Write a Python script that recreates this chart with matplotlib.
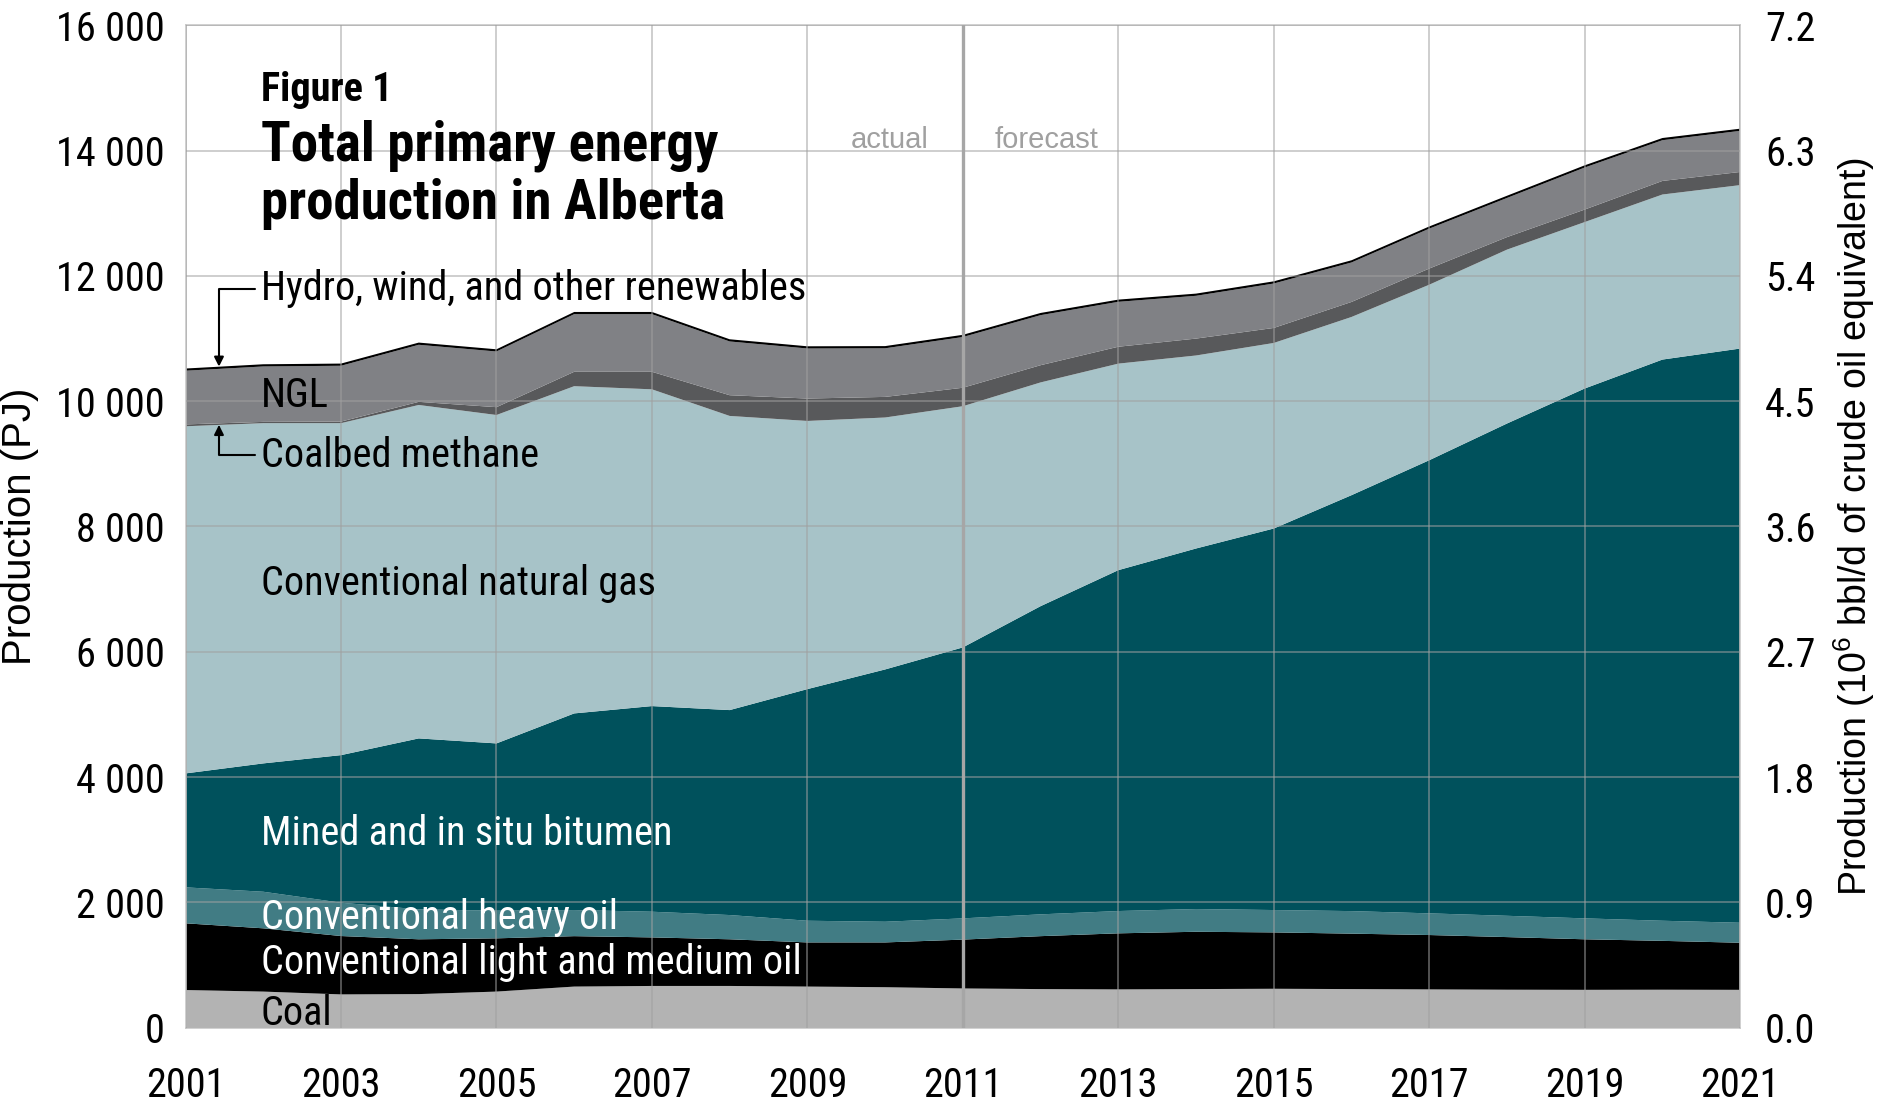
import matplotlib
matplotlib.use("Agg")
import matplotlib.pyplot as plt
import matplotlib.ticker as mticker
import numpy as np

years = np.arange(2001, 2022)

# PJ per year (stack order bottom -> top)
coal = np.array([600, 575, 530, 535, 575, 655, 665, 665, 655, 645, 625,
                 615, 610, 615, 620, 615, 610, 605, 603, 605, 603])
light_oil = np.array([1065, 1010, 932, 875, 850, 805, 775, 745, 705, 715, 780,
                      845, 895, 915, 900, 885, 868, 840, 807, 780, 752])
heavy_oil = np.array([574, 584, 532, 478, 441, 417, 410, 387, 346, 330, 339,
                      348, 356, 363, 357, 360, 346, 340, 334, 321, 319])
bitumen = np.array([1819, 2049, 2356, 2729, 2671, 3139, 3283, 3272, 3698, 4028, 4326,
                    4920, 5442, 5756, 6091, 6640, 7234, 7859, 8459, 8959, 9167])
nat_gas = np.array([5542, 5432, 5300, 5323, 5243, 5224, 5057, 4696, 4281, 4022, 3850,
                    3572, 3297, 3081, 2962, 2845, 2802, 2776, 2657, 2635, 2609])
cbm = np.array([30, 20, 25, 50, 125, 230, 280, 331, 358, 329, 295,
                275, 270, 270, 240, 240, 258, 200, 200, 217, 210])
ngl = np.array([857, 885, 891, 911, 889, 920, 920, 858, 799, 776, 810,
                799, 717, 683, 709, 630, 637, 625, 671, 650, 656])
renewables = np.array([35, 35, 35, 35, 35, 35, 35, 35, 35, 35, 35,
                       35, 35, 35, 35, 35, 35, 35, 35, 35, 35])

layers = [coal, light_oil, heavy_oil, bitumen, nat_gas, cbm, ngl, renewables]
colors = ["#b3b3b3", "#000000", "#417c84", "#00515c", "#a7c3c8",
          "#58595b", "#808185", "#000000"]

narrow = ["Roboto Condensed", "Archivo Narrow", "Liberation Sans", "DejaVu Sans"]
regular = ["Liberation Sans", "DejaVu Sans"]
plt.rcParams["font.family"] = narrow
plt.rcParams["mathtext.fontset"] = "custom"
plt.rcParams["mathtext.rm"] = "Liberation Sans"

fig = plt.figure(figsize=(18.78, 11.04), dpi=100)
ax = fig.add_axes([0.0988, 0.0692, 0.8278, 0.9078])

ax.stackplot(years, *layers, colors=colors, linewidth=0)
tops = np.cumsum(np.vstack(layers), axis=0)

ax.set_xlim(2001, 2021)
ax.set_ylim(0, 16000)
ax.set_xticks(np.arange(2001, 2022, 2))
ax.set_yticks(np.arange(0, 16001, 2000))
ax.yaxis.set_major_formatter(mticker.FuncFormatter(lambda v, p: f"{int(v):,}".replace(",", " ")))
ax.tick_params(axis="both", length=0, labelsize=29)
ax.tick_params(axis="x", pad=28)
ax.tick_params(axis="y", pad=15)
ax.grid(True, color="#a0a0a0", alpha=0.6, linewidth=1.2)
ax.set_axisbelow(False)
for s in ax.spines.values():
    s.set_color("#c8c8c8")
    s.set_linewidth(1.2)

ax.set_ylabel("Production (PJ)", fontsize=29, family=regular)
ax.yaxis.set_label_coords(-0.094, 0.5)

ax2 = ax.twinx()
ax2.set_ylim(0, 7.2)
ax2.set_yticks(np.arange(0, 7.21, 0.9))
ax2.yaxis.set_major_formatter(mticker.FormatStrFormatter("%.1f"))
ax2.tick_params(axis="y", length=0, labelsize=29, pad=18)
for s in ax2.spines.values():
    s.set_visible(False)
ax2.set_ylabel(r"Production (10$^6$ bbl/d of crude oil equivalent)", fontsize=27,
               family=regular)
ax2.yaxis.set_label_coords(1.059, 0.5)

# actual / forecast divider
ax.axvline(2011, color="#a6a6a6", linewidth=2.4, zorder=5)
ax.text(2010.06, 14168, "actual", ha="center", va="center", fontsize=21,
        color="#a0a0a0", family=regular)
ax.text(2012.08, 14168, "forecast", ha="center", va="center", fontsize=21,
        color="#a0a0a0", family=regular)

# titles
lx = 2001.97
ax.text(lx, 14971, "Figure 1", fontsize=29, fontweight="bold", va="center")
ax.text(lx, 14073, "Total primary energy", fontsize=39.5, fontweight="bold", va="center")
ax.text(lx, 13155, "production in Alberta", fontsize=39.5, fontweight="bold", va="center")

# layer labels
fs = 29
ax.text(lx, 10096, "NGL", fontsize=fs, va="center")
ax.text(lx, 7094, "Conventional natural gas", fontsize=fs, va="center")
ax.text(lx, 3098, "Mined and in situ bitumen", fontsize=fs, va="center", color="white")
ax.text(lx, 1759, "Conventional heavy oil", fontsize=fs, va="center", color="white")
ax.text(lx, 1033, "Conventional light and medium oil", fontsize=fs, va="center", color="white")
ax.text(lx, 229, "Coal", fontsize=fs, va="center")

# leader arrows
ax_x = 2001.43
arrow = dict(arrowstyle="-|>", color="black", lw=1.5, mutation_scale=14,
             connectionstyle="angle,angleA=180,angleB=90,rad=0", shrinkA=2, shrinkB=0)
ax.annotate("Hydro, wind, and other renewables", xy=(ax_x, np.interp(ax_x, years, tops[-1])),
            xytext=(lx, 11797), fontsize=fs, va="center", arrowprops=arrow)
ax.annotate("Coalbed methane", xy=(ax_x, np.interp(ax_x, years, tops[4])),
            xytext=(lx, 9140), fontsize=fs, va="center", arrowprops=arrow)

fig.savefig("out.png", dpi=100)
